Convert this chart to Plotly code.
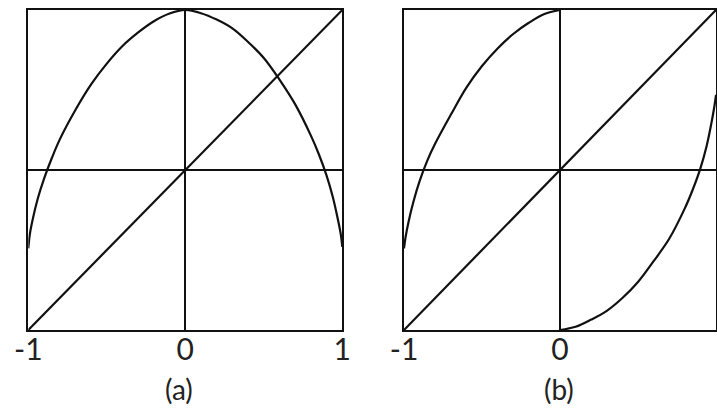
import plotly.graph_objects as go

# ---- data ----
diag_x = [-1, 1]
diag_y = [-1, 1]

a_curve_x = [-1, -0.99, -0.97, -0.94, -0.9, -0.85, -0.8, -0.7, -0.6, -0.5, -0.4, -0.3, -0.2, -0.1, 0,
             0.1, 0.2, 0.3, 0.4, 0.5, 0.6, 0.7, 0.8, 0.85, 0.9, 0.94, 0.97, 0.99, 1]
a_curve_y = [-0.49, -0.40, -0.30, -0.18, -0.055, 0.075, 0.19, 0.375, 0.535, 0.665, 0.775, 0.86, 0.93, 0.978, 1,
             0.98, 0.94, 0.885, 0.80, 0.70, 0.565, 0.41, 0.215, 0.10, -0.035, -0.17, -0.30, -0.40, -0.48]

b_left_x = [-1, -0.99, -0.97, -0.94, -0.9, -0.85, -0.8, -0.7, -0.6, -0.5, -0.4, -0.3, -0.2, -0.1, 0]
b_left_y = [-0.49, -0.42, -0.32, -0.20, -0.07, 0.06, 0.165, 0.345, 0.515, 0.65, 0.76, 0.85, 0.92, 0.975, 1]
b_right_x = [0, 0.1, 0.2, 0.3, 0.4, 0.5, 0.6, 0.7, 0.8, 0.85, 0.9, 0.94, 0.97, 0.99, 1]
b_right_y = [-1, -0.98, -0.935, -0.88, -0.80, -0.70, -0.57, -0.43, -0.24, -0.125, 0.01, 0.15, 0.29, 0.40, 0.47]

a_ticks = [-1, 0, 1]
a_ticktext = ["-1", "0", "1"]
b_ticks = [-1, 0]
b_ticktext = ["-1", "0"]
captions = ["(a)", "(b)"]

W, H = 717, 409
line = dict(color="#111111", width=2.2)

fig = go.Figure()
fig.add_trace(go.Scatter(x=diag_x, y=diag_y, mode="lines", line=line, xaxis="x", yaxis="y"))
fig.add_trace(go.Scatter(x=a_curve_x, y=a_curve_y, mode="lines", line=dict(line, shape="spline"),
                         xaxis="x", yaxis="y"))
fig.add_trace(go.Scatter(x=diag_x, y=diag_y, mode="lines", line=line, xaxis="x2", yaxis="y2"))
fig.add_trace(go.Scatter(x=b_left_x, y=b_left_y, mode="lines", line=dict(line, shape="spline"),
                         xaxis="x2", yaxis="y2"))
fig.add_trace(go.Scatter(x=b_right_x, y=b_right_y, mode="lines", line=dict(line, shape="spline"),
                         xaxis="x2", yaxis="y2"))

ydom = [1 - 330 / H, 1 - 10 / H]
axis_common = dict(range=[-1, 1], showgrid=False, zeroline=True, zerolinecolor="#111111",
                   zerolinewidth=2.2, showline=True, mirror=True, linecolor="#111111",
                   linewidth=2.2, fixedrange=True, automargin=False)
tickfont = dict(family="Lato, Noto Sans, sans-serif", size=30, color="#222222")
capfont = dict(family="Lato, Noto Sans, sans-serif", size=28, color="#222222")

fig.update_layout(
    width=W, height=H,
    margin=dict(l=0, r=0, t=0, b=0),
    paper_bgcolor="white", plot_bgcolor="white",
    showlegend=False,
    xaxis=dict(axis_common, domain=[28.3 / W, 342.3 / W], anchor="y",
               tickmode="array", tickvals=a_ticks, ticktext=a_ticktext, ticks="",
               tickfont=tickfont, ticklabelstandoff=-8),
    yaxis=dict(axis_common, domain=ydom, anchor="x", showticklabels=False, ticks=""),
    xaxis2=dict(axis_common, domain=[404 / W, 716 / W], anchor="y2",
                tickmode="array", tickvals=b_ticks, ticktext=b_ticktext, ticks="",
                tickfont=tickfont, ticklabelstandoff=-8),
    yaxis2=dict(axis_common, domain=ydom, anchor="x2", showticklabels=False, ticks=""),
    annotations=[
        dict(text=captions[0], x=178.5 / W, y=1 - 389 / H, xref="paper", yref="paper",
             showarrow=False, xanchor="center", yanchor="middle", font=capfont),
        dict(text=captions[1], x=558.5 / W, y=1 - 389 / H, xref="paper", yref="paper",
             showarrow=False, xanchor="center", yanchor="middle", font=capfont),
    ],
)

fig.write_html("out.html", config={"displayModeBar": False},
               post_script="document.body.style.margin='0';")
